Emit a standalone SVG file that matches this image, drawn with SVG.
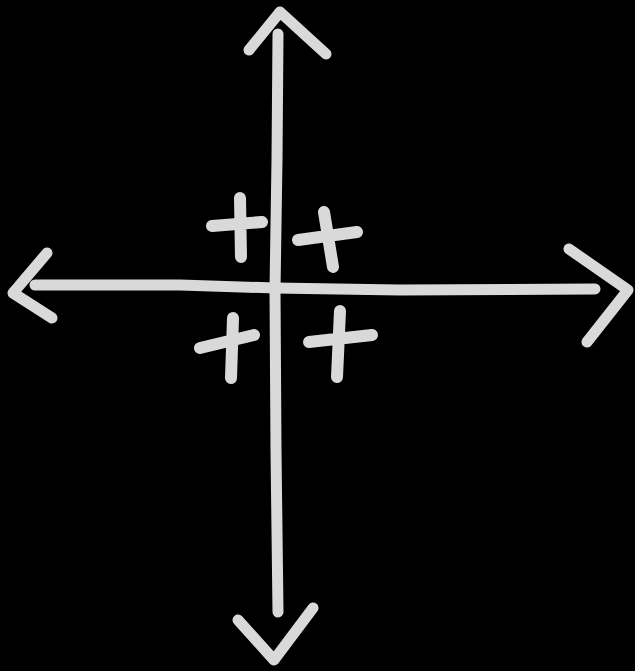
<svg xmlns="http://www.w3.org/2000/svg" width="635" height="671" viewBox="0 0 635 671">
<style>
.c{fill:none;stroke:#d9d9d9;stroke-width:11;stroke-linecap:round;stroke-linejoin:round}
.p{stroke-width:12}
</style>
<rect width="635" height="671" fill="#000"/>
<g id="axes">
<path class="c" d="M278,34 L277,160 L275,290 L276,450 L278,612"/>
<path class="c" d="M35,285 L180,285 L275,288 L400,290 L595,289"/>
</g>
<g id="arrowheads">
<path class="c" d="M249,50 L280,12 L326,54"/>
<path class="c" d="M238,620 L274,660 L313,608"/>
<path class="c" d="M47,253 L13,293 L52,318"/>
<path class="c" d="M569,249 L628,290 L587,342"/>
</g>
<g id="plus-top-left">
<path class="c p" d="M240,198 L241,257 M212,226 L262,222"/>
</g>
<g id="plus-top-right">
<path class="c p" d="M324,212 L333,267 M298,240 L357,232"/>
</g>
<g id="plus-bottom-left">
<path class="c p" d="M233,318 L231,378 M200,348 L254,335"/>
</g>
<g id="plus-bottom-right">
<path class="c p" d="M340,311 L337,377 M309,342 L372,335"/>
</g>
</svg>
